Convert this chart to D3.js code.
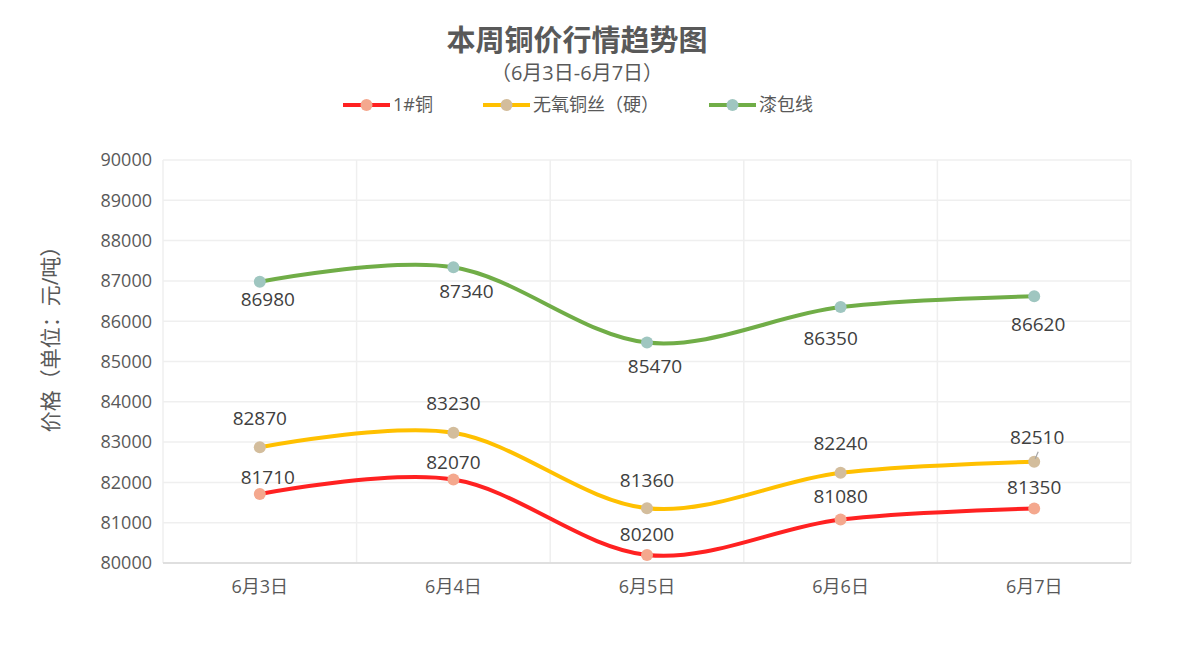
<!DOCTYPE html>
<html>
<head>
<meta charset="utf-8">
<script src="https://cdn.jsdelivr.net/npm/d3@7"></script>
<style>
  body { margin: 0; background: #fff; }
  svg { font-family: "Open Sans", "Noto Sans CJK SC", sans-serif; }
</style>
</head>
<body>
<svg id="chart" width="1180" height="646"></svg>
<script>
// Chart data
const days = ["6月3日", "6月4日", "6月5日", "6月6日", "6月7日"];
const copper = [81710, 82070, 80200, 81080, 81350];
const oxygenFree = [82870, 83230, 81360, 82240, 82510];
const enamelled = [86980, 87340, 85470, 86350, 86620];
const seriesNames = ["1#铜", "无氧铜丝（硬）", "漆包线"];
const yTicks = [80000, 81000, 82000, 83000, 84000, 85000, 86000, 87000, 88000, 89000, 90000];

// label offsets (dx, dy) relative to each point
const labelOffsets = [
  [[8, -17], [0, -17], [0, -21], [0, -23], [0, -21]],
  [[0, -29], [0, -29], [0, -28], [0, -29], [3, -24]],
  [[8, 18], [13, 24], [8, 24], [-10, 31], [4, 28]]
];

let margin = { top: 160, right: 49, bottom: 83, left: 163 },
  width = 1180 - margin.left - margin.right,
  height = 646 - margin.top - margin.bottom;

const svg = d3.select("#chart");
const g = svg.append("g").attr("transform", "translate(" + margin.left + "," + margin.top + ")");

const series = [
  { name: seriesNames[0], values: copper, line: "#ff2121", marker: "#f4a88e" },
  { name: seriesNames[1], values: oxygenFree, line: "#ffc000", marker: "#d3bd9c" },
  { name: seriesNames[2], values: enamelled, line: "#70ad47", marker: "#9fc6c0" }
];

const xScale = d3.scaleBand().domain(days).range([0, width]);
const yScale = d3.scaleLinear().domain([80000, 90000]).range([height, 0]);
const cx = d => xScale(d) + xScale.bandwidth() / 2;

// Grid
g.selectAll(".hgrid").data(yTicks).join("line")
  .attr("x1", 0).attr("x2", width)
  .attr("y1", d => yScale(d)).attr("y2", d => yScale(d))
  .attr("stroke", "#efefef").attr("stroke-width", 1.5);

const vlines = days.map(d => xScale(d)).concat([width]);
g.selectAll(".vgrid").data(vlines).join("line")
  .attr("x1", d => d).attr("x2", d => d)
  .attr("y1", 0).attr("y2", height)
  .attr("stroke", "#efefef").attr("stroke-width", 1.5);

// X axis baseline
g.append("line")
  .attr("x1", 0).attr("x2", width)
  .attr("y1", height).attr("y2", height)
  .attr("stroke", "#d9d9d9").attr("stroke-width", 1.5);

// Y tick labels
g.selectAll(".ytick").data(yTicks).join("text")
  .attr("x", -11).attr("y", d => yScale(d))
  .attr("dy", "0.35em")
  .attr("text-anchor", "end")
  .attr("font-size", 18)
  .attr("fill", "#595959")
  .text(d => d);

// X tick labels
g.selectAll(".xtick").data(days).join("text")
  .attr("x", d => cx(d)).attr("y", height + 30)
  .attr("text-anchor", "middle")
  .attr("font-size", 18)
  .attr("fill", "#595959")
  .text(d => d);

// Y axis title
svg.append("text")
  .attr("transform", "translate(58,334) rotate(-90)")
  .attr("text-anchor", "middle")
  .attr("font-size", 21)
  .attr("fill", "#595959")
  .text("价格（单位：元/吨）");

// Lines
const line = d3.line()
  .x((d, i) => cx(days[i]))
  .y(d => yScale(d))
  .curve(d3.curveCardinal.tension(0));

series.forEach((s, si) => {
  g.append("path")
    .datum(s.values)
    .attr("fill", "none")
    .attr("stroke", s.line)
    .attr("stroke-width", 4)
    .attr("d", line);

  g.selectAll(".pt" + si).data(s.values).join("circle")
    .attr("cx", (d, i) => cx(days[i]))
    .attr("cy", d => yScale(d))
    .attr("r", 6)
    .attr("fill", s.marker);

  g.selectAll(".lbl" + si).data(s.values).join("text")
    .attr("x", (d, i) => cx(days[i]) + labelOffsets[si][i][0])
    .attr("y", (d, i) => yScale(d) + labelOffsets[si][i][1])
    .attr("dy", "0.35em")
    .attr("text-anchor", "middle")
    .attr("font-size", 19)
    .attr("fill", "#404040")
    .text(d => d);
});

// small leader line on the last 无氧铜丝 label
g.append("line")
  .attr("x1", cx(days[4]) + 1).attr("y1", yScale(oxygenFree[4]) - 3)
  .attr("x2", cx(days[4]) + 4).attr("y2", yScale(oxygenFree[4]) - 10)
  .attr("stroke", "#a6a6a6").attr("stroke-width", 1.2);

// Title
svg.append("text")
  .attr("x", 577).attr("y", 51)
  .attr("text-anchor", "middle")
  .attr("font-size", 29)
  .attr("font-weight", "bold")
  .attr("fill", "#595959")
  .text("本周铜价行情趋势图");

svg.append("text")
  .attr("x", 577).attr("y", 80)
  .attr("text-anchor", "middle")
  .attr("font-size", 20)
  .attr("fill", "#595959")
  .text("（6月3日-6月7日）");

// Legend
const legendX = [343, 483, 709];
series.forEach((s, i) => {
  const lg = svg.append("g").attr("transform", "translate(" + legendX[i] + ",105)");
  lg.append("line").attr("x1", 0).attr("x2", 47).attr("y1", 0).attr("y2", 0)
    .attr("stroke", s.line).attr("stroke-width", 4);
  lg.append("circle").attr("cx", 23.5).attr("cy", 0).attr("r", 6).attr("fill", s.marker);
  lg.append("text").attr("x", 50).attr("y", 0).attr("dy", "0.35em")
    .attr("font-size", 18).attr("fill", "#595959").text(s.name);
});
</script>
</body>
</html>
